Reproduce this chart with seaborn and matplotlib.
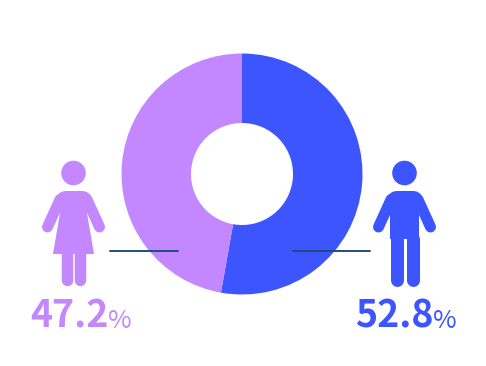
import matplotlib
matplotlib.use("Agg")
import matplotlib.pyplot as plt
from matplotlib.patches import Circle, Polygon
import seaborn as sns

genders = ["male", "female"]
shares = [52.8, 47.2]
share_labels = ["52.8", "47.2"]
colors = ["#3D55FF", "#C388FF"]
line_color = "#1F4E79"
H = 366

sns.set_theme(style="white")
plt.rcParams["font.family"] = ["Noto Sans CJK SC", "DejaVu Sans"]
palette = sns.color_palette(colors)

fig = plt.figure(figsize=(4.86, 3.66), dpi=100)
ax = fig.add_axes([0, 0, 1, 1])

ax.pie(shares, colors=palette, startangle=90, counterclock=False,
       center=(242, H - 174), radius=120.5,
       wedgeprops=dict(width=69.5, linewidth=0), frame=False)
ax.set_xlim(0, 486)
ax.set_ylim(0, H)
ax.set_aspect("equal")
ax.axis("off")


def limb(x0, y0, x1, y1, w, c):
    # w is the width in pixels
    ax.plot([x0, x1], [H - y0, H - y1], color=c, lw=w * 0.72,
            solid_capstyle="round", zorder=3)


def poly(pts, c):
    ax.add_patch(Polygon([(x, H - y) for x, y in pts], fc=c, ec="none", zorder=3))


def upper_body(cx, c):
    ax.add_patch(Circle((cx, H - 173), 12.3, fc=c, ec="none", zorder=3))
    limb(cx - 8.5, 199.5, cx + 8.5, 199.5, 19, c)
    limb(cx - 13.5, 199.5, cx - 26, 227, 11, c)
    limb(cx + 13.5, 199.5, cx + 26, 227, 11, c)


def woman(cx, c):
    upper_body(cx, c)
    poly([(cx - 13.5, 199), (cx + 13.5, 199), (cx + 13.5, 213), (cx + 20.5, 254),
          (cx - 20.5, 254), (cx - 13.5, 213)], c)
    limb(cx - 6.5, 250, cx - 6.5, 280.2, 11.5, c)
    limb(cx + 6.5, 250, cx + 6.5, 280.2, 11.5, c)


def man(cx, c):
    upper_body(cx, c)
    poly([(cx - 14.5, 199), (cx + 14.5, 199), (cx + 14.5, 239), (cx - 14.5, 239)], c)
    limb(cx - 8, 239, cx - 8, 279.5, 13, c)
    limb(cx + 8, 239, cx + 8, 279.5, 13, c)


man(404.5, palette[0])
woman(73.5, palette[1])

ax.plot([109.5, 178], [H - 251, H - 251], color=line_color, lw=1.4, zorder=5)
ax.plot([292.5, 370], [H - 251, H - 251], color=line_color, lw=1.4, zorder=5)

label_x = [355, 30.5]
pct_x = [433, 108]
for lab, x, px, c in zip(share_labels, label_x, pct_x, palette):
    ax.text(x, H - 327.5, lab, color=c, fontsize=27, fontweight="bold", ha="left", va="baseline")
    ax.text(px, H - 327.5, "%", color=c, fontsize=18.5, fontweight="medium", ha="left", va="baseline")

fig.savefig("out.png", dpi=100, facecolor="white")
